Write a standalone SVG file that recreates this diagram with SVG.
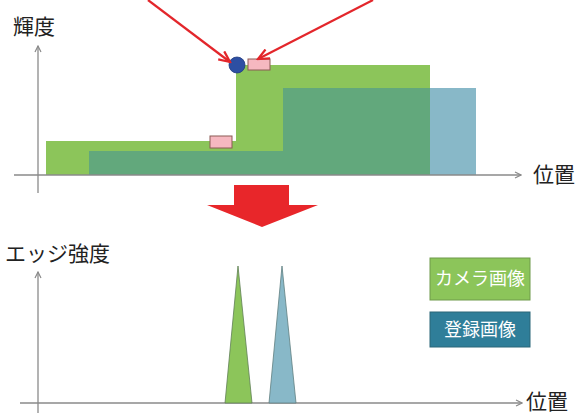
<svg xmlns="http://www.w3.org/2000/svg" width="581" height="414" viewBox="0 0 581 414">
<defs>
<style>
.ax{stroke:#8a8a8a;stroke-width:1.3;fill:none}
.lbl{font-family:"Noto Sans CJK JP","Noto Sans CJK SC",sans-serif;font-size:21px;fill:#222}
.leg{font-family:"Noto Sans CJK JP","Noto Sans CJK SC",sans-serif;font-size:18px;fill:#fff}
.red{stroke:#e3262b;stroke-width:2.2;fill:none}
.pink{fill:#f6b8c0;stroke:#8b5a55;stroke-width:1}
</style>
<marker id="ah" markerWidth="8" markerHeight="8" refX="7" refY="4" orient="auto" markerUnits="userSpaceOnUse">
<path d="M1,1 L7,4 L1,7" fill="none" stroke="#8a8a8a" stroke-width="1.2"/>
</marker>
<marker id="rh" markerWidth="14" markerHeight="12" refX="12" refY="6" orient="auto" markerUnits="userSpaceOnUse">
<path d="M1,1 L12,6 L1,11" fill="none" stroke="#e3262b" stroke-width="2.2"/>
</marker>
</defs>
<rect width="581" height="414" fill="#fff"/>

<g id="top-chart">
<polygon points="46,175 46,141 236,141 236,65 430,65 430,175" fill="#8cc55a"/>
<rect x="430" y="88" width="46" height="87" fill="#88b8c8"/>
<polygon points="89,175 89,151 283,151 283,88 430,88 430,175" fill="#62a87c"/>
<line class="ax" x1="38" y1="193" x2="38" y2="46" marker-end="url(#ah)"/>
<line class="ax" x1="14" y1="175" x2="521" y2="175" marker-end="url(#ah)"/>
<text class="lbl" x="13" y="34">輝度</text>
<text class="lbl" x="533" y="182">位置</text>
<circle cx="237" cy="65" r="8" fill="#2d4fa3" stroke="#1f3a80" stroke-width="0.8"/>
<rect class="pink" x="248" y="59" width="22" height="11"/>
<rect class="pink" x="210" y="136" width="22" height="12"/>
</g>

<g id="connectors">
<line class="red" x1="148" y1="0" x2="230" y2="62" marker-end="url(#rh)"/>
<line class="red" x1="373" y1="0" x2="258" y2="59" marker-end="url(#rh)"/>
<polygon points="234,185 289,185 289,205 318,205 262,227 207,205 234,205" fill="#e8262a"/>
</g>

<g id="bottom-chart">
<line class="ax" x1="38" y1="413" x2="38" y2="272" marker-end="url(#ah)"/>
<line class="ax" x1="20" y1="403" x2="522" y2="403" marker-end="url(#ah)"/>
<text class="lbl" x="5" y="261">エッジ強度</text>
<text class="lbl" x="526" y="409">位置</text>
<polygon points="225,403 238,266 252,403" fill="#8cc55a" stroke="#5f7f55" stroke-width="0.8"/>
<polygon points="269,403 282,266 296,403" fill="#88b8c8" stroke="#5f7f80" stroke-width="0.8"/>
</g>

<g id="legend-camera">
<rect x="430" y="258" width="100" height="42" fill="#8cc55a" stroke="#6f9a4a" stroke-width="1"/>
<text class="leg" x="480" y="285" text-anchor="middle">カメラ画像</text>
</g>
<g id="legend-registered">
<rect x="430" y="312" width="100" height="35" fill="#2f7e99" stroke="#2a6678" stroke-width="1"/>
<text class="leg" x="480" y="336" text-anchor="middle">登録画像</text>
</g>
</svg>
